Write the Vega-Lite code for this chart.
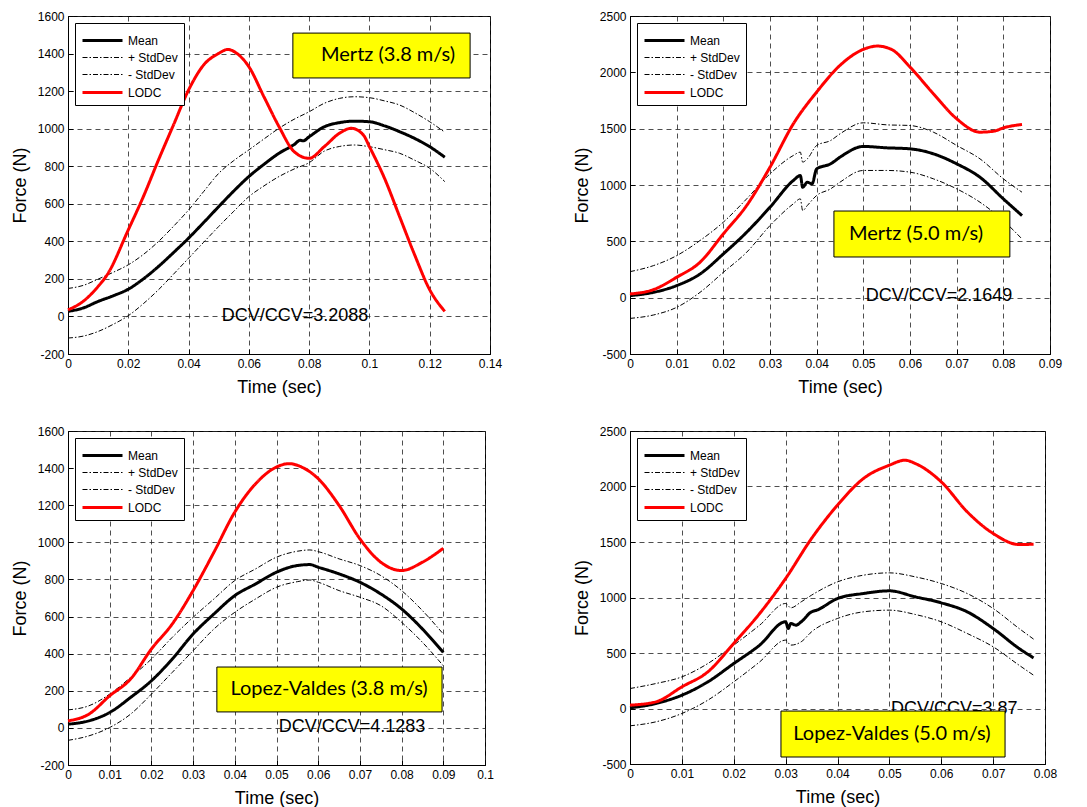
{
  "$schema": "https://vega.github.io/schema/vega-lite/v6.json",
  "background": "white",
  "padding": {"left": 10, "top": 9, "right": 5, "bottom": 5},
  "config": {
    "font": "Liberation Sans",
    "view": {"stroke": "black", "strokeWidth": 1},
    "axis": {
      "grid": true, "gridColor": "#222222", "gridDash": [5, 4], "gridOpacity": 1, "gridWidth": 0.8,
      "domainColor": "black", "tickColor": "black", "tickSize": -5, "labelFlush": false,
      "labelFont": "Liberation Sans", "labelFontSize": 12, "labelColor": "black", "labelPadding": 9,
      "titleFont": "Liberation Sans", "titleFontSize": 18, "titleFontWeight": "normal", "titleColor": "black",
      "labelExpr": "replace(datum.label, '\u2212', '-')"
    },
    "axisX": {"titlePadding": 9},
    "axisY": {"titlePadding": 8},
    "legend": {
      "orient": "top-left", "offset": 7, "strokeColor": "black", "fillColor": "white", "padding": 6,
      "cornerRadius": 0, "symbolType": "M-1,0H3", "symbolSize": 400, "labelFont": "Liberation Sans",
      "labelFontSize": 12, "labelColor": "black", "rowPadding": -1, "labelOffset": 24
    }
  },
  "columns": 2,
  "spacing": {"row": 27, "column": 69},
  "resolve": {
    "scale": {"color": "independent", "strokeDash": "independent", "strokeWidth": "independent", "x": "independent", "y": "independent"},
    "legend": {"color": "independent", "strokeDash": "independent", "strokeWidth": "independent"}
  },
  "concat": [
    {
      "width": 422, "height": 338,
      "encoding": {
        "x": {"field": "t", "type": "quantitative", "title": "Time (sec)", "scale": {"domain": [0, 0.14], "nice": false, "zero": false}, "axis": {"values": [0, 0.02, 0.04, 0.06, 0.08, 0.1, 0.12, 0.14], "format": "~g"}},
        "y": {"field": "f", "type": "quantitative", "title": "Force (N)", "scale": {"domain": [-200, 1600], "nice": false, "zero": false}, "axis": {"values": [-200, 0, 200, 400, 600, 800, 1000, 1200, 1400, 1600], "format": "d"}}
      },
      "layer": [
        {
          "data": {"values": [
            {"t": 0, "f": 27, "s": "Mean"}, {"t": 0.005, "f": 45, "s": "Mean"}, {"t": 0.01, "f": 80, "s": "Mean"}, {"t": 0.015, "f": 110, "s": "Mean"}, {"t": 0.02, "f": 145, "s": "Mean"}, {"t": 0.025, "f": 200, "s": "Mean"}, {"t": 0.03, "f": 266, "s": "Mean"}, {"t": 0.035, "f": 340, "s": "Mean"}, {"t": 0.04, "f": 417, "s": "Mean"}, {"t": 0.045, "f": 500, "s": "Mean"}, {"t": 0.05, "f": 585, "s": "Mean"}, {"t": 0.055, "f": 668, "s": "Mean"}, {"t": 0.06, "f": 745, "s": "Mean"}, {"t": 0.065, "f": 810, "s": "Mean"}, {"t": 0.07, "f": 869, "s": "Mean"}, {"t": 0.075, "f": 915, "s": "Mean"}, {"t": 0.077, "f": 938, "s": "Mean"}, {"t": 0.078, "f": 935, "s": "Mean"}, {"t": 0.08, "f": 957, "s": "Mean"}, {"t": 0.085, "f": 1010, "s": "Mean"}, {"t": 0.09, "f": 1032, "s": "Mean"}, {"t": 0.095, "f": 1040, "s": "Mean"}, {"t": 0.1, "f": 1037, "s": "Mean"}, {"t": 0.105, "f": 1015, "s": "Mean"}, {"t": 0.11, "f": 984, "s": "Mean"}, {"t": 0.115, "f": 948, "s": "Mean"}, {"t": 0.12, "f": 904, "s": "Mean"}, {"t": 0.125, "f": 848, "s": "Mean"},
            {"t": 0, "f": 149, "s": "+ StdDev"}, {"t": 0.005, "f": 165, "s": "+ StdDev"}, {"t": 0.01, "f": 199, "s": "+ StdDev"}, {"t": 0.015, "f": 235, "s": "+ StdDev"}, {"t": 0.02, "f": 275, "s": "+ StdDev"}, {"t": 0.025, "f": 330, "s": "+ StdDev"}, {"t": 0.03, "f": 399, "s": "+ StdDev"}, {"t": 0.035, "f": 480, "s": "+ StdDev"}, {"t": 0.04, "f": 567, "s": "+ StdDev"}, {"t": 0.045, "f": 665, "s": "+ StdDev"}, {"t": 0.05, "f": 762, "s": "+ StdDev"}, {"t": 0.055, "f": 830, "s": "+ StdDev"}, {"t": 0.06, "f": 887, "s": "+ StdDev"}, {"t": 0.065, "f": 945, "s": "+ StdDev"}, {"t": 0.07, "f": 1002, "s": "+ StdDev"}, {"t": 0.075, "f": 1050, "s": "+ StdDev"}, {"t": 0.08, "f": 1090, "s": "+ StdDev"}, {"t": 0.085, "f": 1135, "s": "+ StdDev"}, {"t": 0.09, "f": 1161, "s": "+ StdDev"}, {"t": 0.095, "f": 1170, "s": "+ StdDev"}, {"t": 0.1, "f": 1165, "s": "+ StdDev"}, {"t": 0.105, "f": 1148, "s": "+ StdDev"}, {"t": 0.11, "f": 1126, "s": "+ StdDev"}, {"t": 0.115, "f": 1085, "s": "+ StdDev"}, {"t": 0.12, "f": 1037, "s": "+ StdDev"}, {"t": 0.125, "f": 981, "s": "+ StdDev"},
            {"t": 0, "f": -115, "s": "- StdDev"}, {"t": 0.005, "f": -105, "s": "- StdDev"}, {"t": 0.01, "f": -80, "s": "- StdDev"}, {"t": 0.015, "f": -42, "s": "- StdDev"}, {"t": 0.02, "f": 4, "s": "- StdDev"}, {"t": 0.025, "f": 68, "s": "- StdDev"}, {"t": 0.03, "f": 142, "s": "- StdDev"}, {"t": 0.035, "f": 225, "s": "- StdDev"}, {"t": 0.04, "f": 310, "s": "- StdDev"}, {"t": 0.045, "f": 395, "s": "- StdDev"}, {"t": 0.05, "f": 479, "s": "- StdDev"}, {"t": 0.055, "f": 560, "s": "- StdDev"}, {"t": 0.06, "f": 638, "s": "- StdDev"}, {"t": 0.065, "f": 695, "s": "- StdDev"}, {"t": 0.07, "f": 745, "s": "- StdDev"}, {"t": 0.075, "f": 785, "s": "- StdDev"}, {"t": 0.08, "f": 819, "s": "- StdDev"}, {"t": 0.085, "f": 880, "s": "- StdDev"}, {"t": 0.09, "f": 905, "s": "- StdDev"}, {"t": 0.095, "f": 913, "s": "- StdDev"}, {"t": 0.1, "f": 904, "s": "- StdDev"}, {"t": 0.105, "f": 888, "s": "- StdDev"}, {"t": 0.11, "f": 869, "s": "- StdDev"}, {"t": 0.115, "f": 832, "s": "- StdDev"}, {"t": 0.12, "f": 789, "s": "- StdDev"}, {"t": 0.125, "f": 718, "s": "- StdDev"},
            {"t": 0, "f": 35, "s": "LODC"}, {"t": 0.005, "f": 80, "s": "LODC"}, {"t": 0.01, "f": 160, "s": "LODC"}, {"t": 0.013, "f": 222, "s": "LODC"}, {"t": 0.02, "f": 461, "s": "LODC"}, {"t": 0.025, "f": 638, "s": "LODC"}, {"t": 0.03, "f": 833, "s": "LODC"}, {"t": 0.035, "f": 1020, "s": "LODC"}, {"t": 0.04, "f": 1206, "s": "LODC"}, {"t": 0.045, "f": 1339, "s": "LODC"}, {"t": 0.05, "f": 1401, "s": "LODC"}, {"t": 0.053, "f": 1422, "s": "LODC"}, {"t": 0.056, "f": 1401, "s": "LODC"}, {"t": 0.06, "f": 1330, "s": "LODC"}, {"t": 0.065, "f": 1170, "s": "LODC"}, {"t": 0.07, "f": 1011, "s": "LODC"}, {"t": 0.075, "f": 878, "s": "LODC"}, {"t": 0.08, "f": 842, "s": "LODC"}, {"t": 0.085, "f": 904, "s": "LODC"}, {"t": 0.09, "f": 975, "s": "LODC"}, {"t": 0.094, "f": 1002, "s": "LODC"}, {"t": 0.098, "f": 966, "s": "LODC"}, {"t": 0.1, "f": 904, "s": "LODC"}, {"t": 0.105, "f": 736, "s": "LODC"}, {"t": 0.11, "f": 532, "s": "LODC"}, {"t": 0.115, "f": 328, "s": "LODC"}, {"t": 0.12, "f": 142, "s": "LODC"}, {"t": 0.125, "f": 27, "s": "LODC"}
          ]},
          "mark": {"type": "line", "interpolate": "monotone"},
          "encoding": {
            "color": {"field": "s", "type": "nominal", "scale": {"domain": ["Mean", "+ StdDev", "- StdDev", "LODC"], "range": ["black", "black", "black", "#ff0000"]}, "legend": {"title": null}},
            "strokeDash": {"field": "s", "type": "nominal", "scale": {"domain": ["Mean", "+ StdDev", "- StdDev", "LODC"], "range": [[1, 0], [5, 2, 1.5, 2], [5, 2, 1.5, 2], [1, 0]]}, "legend": {"title": null}},
            "strokeWidth": {"field": "s", "type": "nominal", "scale": {"type": "ordinal", "domain": ["Mean", "+ StdDev", "- StdDev", "LODC"], "range": [3, 1, 1, 3]}, "legend": {"title": null}}
          }
        },
        {
          "data": {"values": [{"t": 0.0753, "f": 0, "label": "DCV/CCV=3.2088"}]},
          "mark": {"type": "text", "font": "Liberation Sans", "fontSize": 18, "color": "black"},
          "encoding": {"text": {"field": "label"}}
        },
        {
          "data": {"values": [{"t": 0.0746, "t2": 0.1334, "f": 1270, "f2": 1509}]},
          "mark": {"type": "rect", "fill": "#ffff00", "stroke": "black", "strokeWidth": 1},
          "encoding": {"x2": {"field": "t2"}, "y2": {"field": "f2"}}
        },
        {
          "data": {"values": [{"t": 0.1062, "f": 1392, "label": "Mertz (3.8 m/s)"}]},
          "mark": {"type": "text", "font": "Lato", "fontSize": 20, "color": "black"},
          "encoding": {"text": {"field": "label"}}
        }
      ]
    },
    {
      "width": 420, "height": 338,
      "encoding": {
        "x": {"field": "t", "type": "quantitative", "title": "Time (sec)", "scale": {"domain": [0, 0.09], "nice": false, "zero": false}, "axis": {"values": [0, 0.01, 0.02, 0.03, 0.04, 0.05, 0.06, 0.07, 0.08, 0.09], "format": "~g"}},
        "y": {"field": "f", "type": "quantitative", "title": "Force (N)", "scale": {"domain": [-500, 2500], "nice": false, "zero": false}, "axis": {"values": [-500, 0, 500, 1000, 1500, 2000, 2500], "format": "d"}}
      },
      "layer": [
        {
          "data": {"values": [
            {"t": 0, "f": 18, "s": "Mean"}, {"t": 0.005, "f": 47, "s": "Mean"}, {"t": 0.01, "f": 107, "s": "Mean"}, {"t": 0.015, "f": 210, "s": "Mean"}, {"t": 0.02, "f": 388, "s": "Mean"}, {"t": 0.025, "f": 581, "s": "Mean"}, {"t": 0.03, "f": 803, "s": "Mean"}, {"t": 0.035, "f": 1040, "s": "Mean"}, {"t": 0.0365, "f": 1084, "s": "Mean"}, {"t": 0.037, "f": 980, "s": "Mean"}, {"t": 0.038, "f": 1025, "s": "Mean"}, {"t": 0.039, "f": 1010, "s": "Mean"}, {"t": 0.04, "f": 1143, "s": "Mean"}, {"t": 0.043, "f": 1188, "s": "Mean"}, {"t": 0.045, "f": 1247, "s": "Mean"}, {"t": 0.05, "f": 1342, "s": "Mean"}, {"t": 0.055, "f": 1330, "s": "Mean"}, {"t": 0.06, "f": 1321, "s": "Mean"}, {"t": 0.065, "f": 1277, "s": "Mean"}, {"t": 0.07, "f": 1188, "s": "Mean"}, {"t": 0.075, "f": 1069, "s": "Mean"}, {"t": 0.08, "f": 877, "s": "Mean"}, {"t": 0.084, "f": 729, "s": "Mean"},
            {"t": 0, "f": 231, "s": "+ StdDev"}, {"t": 0.005, "f": 284, "s": "+ StdDev"}, {"t": 0.01, "f": 373, "s": "+ StdDev"}, {"t": 0.015, "f": 507, "s": "+ StdDev"}, {"t": 0.02, "f": 670, "s": "+ StdDev"}, {"t": 0.025, "f": 877, "s": "+ StdDev"}, {"t": 0.03, "f": 1099, "s": "+ StdDev"}, {"t": 0.035, "f": 1262, "s": "+ StdDev"}, {"t": 0.0365, "f": 1292, "s": "+ StdDev"}, {"t": 0.037, "f": 1203, "s": "+ StdDev"}, {"t": 0.038, "f": 1232, "s": "+ StdDev"}, {"t": 0.04, "f": 1351, "s": "+ StdDev"}, {"t": 0.043, "f": 1395, "s": "+ StdDev"}, {"t": 0.045, "f": 1454, "s": "+ StdDev"}, {"t": 0.05, "f": 1552, "s": "+ StdDev"}, {"t": 0.055, "f": 1534, "s": "+ StdDev"}, {"t": 0.06, "f": 1528, "s": "+ StdDev"}, {"t": 0.065, "f": 1469, "s": "+ StdDev"}, {"t": 0.07, "f": 1351, "s": "+ StdDev"}, {"t": 0.075, "f": 1232, "s": "+ StdDev"}, {"t": 0.08, "f": 1055, "s": "+ StdDev"}, {"t": 0.084, "f": 936, "s": "+ StdDev"},
            {"t": 0, "f": -184, "s": "- StdDev"}, {"t": 0.005, "f": -154, "s": "- StdDev"}, {"t": 0.01, "f": -86, "s": "- StdDev"}, {"t": 0.015, "f": 47, "s": "- StdDev"}, {"t": 0.02, "f": 225, "s": "- StdDev"}, {"t": 0.025, "f": 403, "s": "- StdDev"}, {"t": 0.03, "f": 640, "s": "- StdDev"}, {"t": 0.035, "f": 833, "s": "- StdDev"}, {"t": 0.0365, "f": 877, "s": "- StdDev"}, {"t": 0.037, "f": 773, "s": "- StdDev"}, {"t": 0.038, "f": 818, "s": "- StdDev"}, {"t": 0.04, "f": 907, "s": "- StdDev"}, {"t": 0.043, "f": 966, "s": "- StdDev"}, {"t": 0.045, "f": 1025, "s": "- StdDev"}, {"t": 0.05, "f": 1129, "s": "- StdDev"}, {"t": 0.055, "f": 1129, "s": "- StdDev"}, {"t": 0.06, "f": 1114, "s": "- StdDev"}, {"t": 0.065, "f": 1055, "s": "- StdDev"}, {"t": 0.07, "f": 966, "s": "- StdDev"}, {"t": 0.075, "f": 847, "s": "- StdDev"}, {"t": 0.08, "f": 684, "s": "- StdDev"}, {"t": 0.084, "f": 521, "s": "- StdDev"},
            {"t": 0, "f": 33, "s": "LODC"}, {"t": 0.005, "f": 71, "s": "LODC"}, {"t": 0.01, "f": 181, "s": "LODC"}, {"t": 0.015, "f": 314, "s": "LODC"}, {"t": 0.02, "f": 566, "s": "LODC"}, {"t": 0.025, "f": 818, "s": "LODC"}, {"t": 0.03, "f": 1158, "s": "LODC"}, {"t": 0.035, "f": 1543, "s": "LODC"}, {"t": 0.04, "f": 1825, "s": "LODC"}, {"t": 0.045, "f": 2062, "s": "LODC"}, {"t": 0.05, "f": 2204, "s": "LODC"}, {"t": 0.053, "f": 2233, "s": "LODC"}, {"t": 0.056, "f": 2204, "s": "LODC"}, {"t": 0.06, "f": 2047, "s": "LODC"}, {"t": 0.065, "f": 1810, "s": "LODC"}, {"t": 0.07, "f": 1588, "s": "LODC"}, {"t": 0.075, "f": 1469, "s": "LODC"}, {"t": 0.078, "f": 1478, "s": "LODC"}, {"t": 0.08, "f": 1507, "s": "LODC"}, {"t": 0.084, "f": 1537, "s": "LODC"}
          ]},
          "mark": {"type": "line", "interpolate": "monotone"},
          "encoding": {
            "color": {"field": "s", "type": "nominal", "scale": {"domain": ["Mean", "+ StdDev", "- StdDev", "LODC"], "range": ["black", "black", "black", "#ff0000"]}, "legend": {"title": null}},
            "strokeDash": {"field": "s", "type": "nominal", "scale": {"domain": ["Mean", "+ StdDev", "- StdDev", "LODC"], "range": [[1, 0], [5, 2, 1.5, 2], [5, 2, 1.5, 2], [1, 0]]}, "legend": {"title": null}},
            "strokeWidth": {"field": "s", "type": "nominal", "scale": {"type": "ordinal", "domain": ["Mean", "+ StdDev", "- StdDev", "LODC"], "range": [3, 1, 1, 3]}, "legend": {"title": null}}
          }
        },
        {
          "data": {"values": [{"t": 0.0662, "f": 15, "label": "DCV/CCV=2.1649"}]},
          "mark": {"type": "text", "font": "Liberation Sans", "fontSize": 18, "color": "black"},
          "encoding": {"text": {"field": "label"}}
        },
        {
          "data": {"values": [{"t": 0.0437, "t2": 0.0814, "f": 361, "f2": 769}]},
          "mark": {"type": "rect", "fill": "#ffff00", "stroke": "black", "strokeWidth": 1},
          "encoding": {"x2": {"field": "t2"}, "y2": {"field": "f2"}}
        },
        {
          "data": {"values": [{"t": 0.0613, "f": 565, "label": "Mertz (5.0 m/s)"}]},
          "mark": {"type": "text", "font": "Lato", "fontSize": 20, "color": "black"},
          "encoding": {"text": {"field": "label"}}
        }
      ]
    },
    {
      "width": 417, "height": 334,
      "encoding": {
        "x": {"field": "t", "type": "quantitative", "title": "Time (sec)", "scale": {"domain": [0, 0.1], "nice": false, "zero": false}, "axis": {"values": [0, 0.01, 0.02, 0.03, 0.04, 0.05, 0.06, 0.07, 0.08, 0.09, 0.1], "format": "~g"}},
        "y": {"field": "f", "type": "quantitative", "title": "Force (N)", "scale": {"domain": [-200, 1600], "nice": false, "zero": false}, "axis": {"values": [-200, 0, 200, 400, 600, 800, 1000, 1200, 1400, 1600], "format": "d"}}
      },
      "layer": [
        {
          "data": {"values": [
            {"t": 0, "f": 20, "s": "Mean"}, {"t": 0.005, "f": 38, "s": "Mean"}, {"t": 0.01, "f": 83, "s": "Mean"}, {"t": 0.015, "f": 164, "s": "Mean"}, {"t": 0.02, "f": 254, "s": "Mean"}, {"t": 0.025, "f": 371, "s": "Mean"}, {"t": 0.03, "f": 506, "s": "Mean"}, {"t": 0.035, "f": 614, "s": "Mean"}, {"t": 0.04, "f": 713, "s": "Mean"}, {"t": 0.045, "f": 776, "s": "Mean"}, {"t": 0.05, "f": 839, "s": "Mean"}, {"t": 0.055, "f": 875, "s": "Mean"}, {"t": 0.058, "f": 880, "s": "Mean"}, {"t": 0.06, "f": 866, "s": "Mean"}, {"t": 0.065, "f": 830, "s": "Mean"}, {"t": 0.07, "f": 785, "s": "Mean"}, {"t": 0.075, "f": 722, "s": "Mean"}, {"t": 0.08, "f": 641, "s": "Mean"}, {"t": 0.085, "f": 533, "s": "Mean"}, {"t": 0.09, "f": 407, "s": "Mean"},
            {"t": 0, "f": 97, "s": "+ StdDev"}, {"t": 0.005, "f": 119, "s": "+ StdDev"}, {"t": 0.01, "f": 182, "s": "+ StdDev"}, {"t": 0.015, "f": 272, "s": "+ StdDev"}, {"t": 0.02, "f": 371, "s": "+ StdDev"}, {"t": 0.025, "f": 488, "s": "+ StdDev"}, {"t": 0.03, "f": 596, "s": "+ StdDev"}, {"t": 0.035, "f": 695, "s": "+ StdDev"}, {"t": 0.04, "f": 794, "s": "+ StdDev"}, {"t": 0.045, "f": 857, "s": "+ StdDev"}, {"t": 0.05, "f": 920, "s": "+ StdDev"}, {"t": 0.055, "f": 952, "s": "+ StdDev"}, {"t": 0.058, "f": 959, "s": "+ StdDev"}, {"t": 0.06, "f": 950, "s": "+ StdDev"}, {"t": 0.065, "f": 911, "s": "+ StdDev"}, {"t": 0.07, "f": 875, "s": "+ StdDev"}, {"t": 0.075, "f": 821, "s": "+ StdDev"}, {"t": 0.08, "f": 740, "s": "+ StdDev"}, {"t": 0.085, "f": 632, "s": "+ StdDev"}, {"t": 0.09, "f": 506, "s": "+ StdDev"},
            {"t": 0, "f": -67, "s": "- StdDev"}, {"t": 0.005, "f": -43, "s": "- StdDev"}, {"t": 0.01, "f": 2, "s": "- StdDev"}, {"t": 0.015, "f": 74, "s": "- StdDev"}, {"t": 0.02, "f": 182, "s": "- StdDev"}, {"t": 0.025, "f": 299, "s": "- StdDev"}, {"t": 0.03, "f": 416, "s": "- StdDev"}, {"t": 0.035, "f": 533, "s": "- StdDev"}, {"t": 0.04, "f": 623, "s": "- StdDev"}, {"t": 0.045, "f": 695, "s": "- StdDev"}, {"t": 0.05, "f": 758, "s": "- StdDev"}, {"t": 0.055, "f": 788, "s": "- StdDev"}, {"t": 0.058, "f": 797, "s": "- StdDev"}, {"t": 0.06, "f": 785, "s": "- StdDev"}, {"t": 0.065, "f": 740, "s": "- StdDev"}, {"t": 0.07, "f": 704, "s": "- StdDev"}, {"t": 0.075, "f": 659, "s": "- StdDev"}, {"t": 0.08, "f": 569, "s": "- StdDev"}, {"t": 0.085, "f": 461, "s": "- StdDev"}, {"t": 0.09, "f": 335, "s": "- StdDev"},
            {"t": 0, "f": 38, "s": "LODC"}, {"t": 0.005, "f": 74, "s": "LODC"}, {"t": 0.01, "f": 173, "s": "LODC"}, {"t": 0.015, "f": 263, "s": "LODC"}, {"t": 0.02, "f": 425, "s": "LODC"}, {"t": 0.025, "f": 560, "s": "LODC"}, {"t": 0.03, "f": 740, "s": "LODC"}, {"t": 0.035, "f": 947, "s": "LODC"}, {"t": 0.04, "f": 1163, "s": "LODC"}, {"t": 0.045, "f": 1316, "s": "LODC"}, {"t": 0.05, "f": 1406, "s": "LODC"}, {"t": 0.053, "f": 1424, "s": "LODC"}, {"t": 0.056, "f": 1406, "s": "LODC"}, {"t": 0.06, "f": 1343, "s": "LODC"}, {"t": 0.065, "f": 1199, "s": "LODC"}, {"t": 0.07, "f": 1019, "s": "LODC"}, {"t": 0.075, "f": 893, "s": "LODC"}, {"t": 0.08, "f": 848, "s": "LODC"}, {"t": 0.085, "f": 893, "s": "LODC"}, {"t": 0.09, "f": 968, "s": "LODC"}
          ]},
          "mark": {"type": "line", "interpolate": "monotone"},
          "encoding": {
            "color": {"field": "s", "type": "nominal", "scale": {"domain": ["Mean", "+ StdDev", "- StdDev", "LODC"], "range": ["black", "black", "black", "#ff0000"]}, "legend": {"title": null}},
            "strokeDash": {"field": "s", "type": "nominal", "scale": {"domain": ["Mean", "+ StdDev", "- StdDev", "LODC"], "range": [[1, 0], [5, 2, 1.5, 2], [5, 2, 1.5, 2], [1, 0]]}, "legend": {"title": null}},
            "strokeWidth": {"field": "s", "type": "nominal", "scale": {"type": "ordinal", "domain": ["Mean", "+ StdDev", "- StdDev", "LODC"], "range": [3, 1, 1, 3]}, "legend": {"title": null}}
          }
        },
        {
          "data": {"values": [{"t": 0.0681, "f": 5, "label": "DCV/CCV=4.1283"}]},
          "mark": {"type": "text", "font": "Liberation Sans", "fontSize": 18, "color": "black"},
          "encoding": {"text": {"field": "label"}}
        },
        {
          "data": {"values": [{"t": 0.0357, "t2": 0.0897, "f": 86, "f2": 328}]},
          "mark": {"type": "rect", "fill": "#ffff00", "stroke": "black", "strokeWidth": 1},
          "encoding": {"x2": {"field": "t2"}, "y2": {"field": "f2"}}
        },
        {
          "data": {"values": [{"t": 0.0626, "f": 207, "label": "Lopez-Valdes (3.8 m/s)"}]},
          "mark": {"type": "text", "font": "Lato", "fontSize": 20, "color": "black"},
          "encoding": {"text": {"field": "label"}}
        }
      ]
    },
    {
      "width": 415, "height": 333,
      "encoding": {
        "x": {"field": "t", "type": "quantitative", "title": "Time (sec)", "scale": {"domain": [0, 0.08], "nice": false, "zero": false}, "axis": {"values": [0, 0.01, 0.02, 0.03, 0.04, 0.05, 0.06, 0.07, 0.08], "format": "~g"}},
        "y": {"field": "f", "type": "quantitative", "title": "Force (N)", "scale": {"domain": [-500, 2500], "nice": false, "zero": false}, "axis": {"values": [-500, 0, 500, 1000, 1500, 2000, 2500], "format": "d"}}
      },
      "layer": [
        {
          "data": {"values": [
            {"t": 0, "f": 6, "s": "Mean"}, {"t": 0.005, "f": 45, "s": "Mean"}, {"t": 0.01, "f": 120, "s": "Mean"}, {"t": 0.015, "f": 240, "s": "Mean"}, {"t": 0.02, "f": 405, "s": "Mean"}, {"t": 0.025, "f": 571, "s": "Mean"}, {"t": 0.03, "f": 781, "s": "Mean"}, {"t": 0.0305, "f": 721, "s": "Mean"}, {"t": 0.031, "f": 766, "s": "Mean"}, {"t": 0.032, "f": 751, "s": "Mean"}, {"t": 0.033, "f": 781, "s": "Mean"}, {"t": 0.035, "f": 871, "s": "Mean"}, {"t": 0.036, "f": 886, "s": "Mean"}, {"t": 0.04, "f": 991, "s": "Mean"}, {"t": 0.045, "f": 1036, "s": "Mean"}, {"t": 0.05, "f": 1060, "s": "Mean"}, {"t": 0.055, "f": 1006, "s": "Mean"}, {"t": 0.06, "f": 952, "s": "Mean"}, {"t": 0.065, "f": 871, "s": "Mean"}, {"t": 0.07, "f": 721, "s": "Mean"}, {"t": 0.075, "f": 541, "s": "Mean"}, {"t": 0.0778, "f": 456, "s": "Mean"},
            {"t": 0, "f": 180, "s": "+ StdDev"}, {"t": 0.005, "f": 225, "s": "+ StdDev"}, {"t": 0.01, "f": 285, "s": "+ StdDev"}, {"t": 0.015, "f": 405, "s": "+ StdDev"}, {"t": 0.02, "f": 571, "s": "+ StdDev"}, {"t": 0.025, "f": 751, "s": "+ StdDev"}, {"t": 0.03, "f": 946, "s": "+ StdDev"}, {"t": 0.031, "f": 907, "s": "+ StdDev"}, {"t": 0.033, "f": 961, "s": "+ StdDev"}, {"t": 0.035, "f": 1021, "s": "+ StdDev"}, {"t": 0.04, "f": 1141, "s": "+ StdDev"}, {"t": 0.045, "f": 1201, "s": "+ StdDev"}, {"t": 0.05, "f": 1222, "s": "+ StdDev"}, {"t": 0.055, "f": 1186, "s": "+ StdDev"}, {"t": 0.06, "f": 1126, "s": "+ StdDev"}, {"t": 0.065, "f": 1036, "s": "+ StdDev"}, {"t": 0.07, "f": 901, "s": "+ StdDev"}, {"t": 0.075, "f": 721, "s": "+ StdDev"}, {"t": 0.0778, "f": 625, "s": "+ StdDev"},
            {"t": 0, "f": -156, "s": "- StdDev"}, {"t": 0.005, "f": -120, "s": "- StdDev"}, {"t": 0.01, "f": -45, "s": "- StdDev"}, {"t": 0.015, "f": 75, "s": "- StdDev"}, {"t": 0.02, "f": 240, "s": "- StdDev"}, {"t": 0.025, "f": 420, "s": "- StdDev"}, {"t": 0.03, "f": 616, "s": "- StdDev"}, {"t": 0.031, "f": 571, "s": "- StdDev"}, {"t": 0.033, "f": 601, "s": "- StdDev"}, {"t": 0.035, "f": 691, "s": "- StdDev"}, {"t": 0.04, "f": 811, "s": "- StdDev"}, {"t": 0.045, "f": 871, "s": "- StdDev"}, {"t": 0.05, "f": 886, "s": "- StdDev"}, {"t": 0.055, "f": 847, "s": "- StdDev"}, {"t": 0.06, "f": 781, "s": "- StdDev"}, {"t": 0.065, "f": 676, "s": "- StdDev"}, {"t": 0.07, "f": 556, "s": "- StdDev"}, {"t": 0.075, "f": 390, "s": "- StdDev"}, {"t": 0.0778, "f": 300, "s": "- StdDev"},
            {"t": 0, "f": 30, "s": "LODC"}, {"t": 0.005, "f": 60, "s": "LODC"}, {"t": 0.01, "f": 195, "s": "LODC"}, {"t": 0.015, "f": 330, "s": "LODC"}, {"t": 0.02, "f": 586, "s": "LODC"}, {"t": 0.025, "f": 856, "s": "LODC"}, {"t": 0.03, "f": 1171, "s": "LODC"}, {"t": 0.035, "f": 1532, "s": "LODC"}, {"t": 0.04, "f": 1832, "s": "LODC"}, {"t": 0.045, "f": 2072, "s": "LODC"}, {"t": 0.05, "f": 2192, "s": "LODC"}, {"t": 0.053, "f": 2237, "s": "LODC"}, {"t": 0.055, "f": 2207, "s": "LODC"}, {"t": 0.06, "f": 2042, "s": "LODC"}, {"t": 0.065, "f": 1772, "s": "LODC"}, {"t": 0.07, "f": 1577, "s": "LODC"}, {"t": 0.075, "f": 1477, "s": "LODC"}, {"t": 0.0778, "f": 1480, "s": "LODC"}
          ]},
          "mark": {"type": "line", "interpolate": "monotone"},
          "encoding": {
            "color": {"field": "s", "type": "nominal", "scale": {"domain": ["Mean", "+ StdDev", "- StdDev", "LODC"], "range": ["black", "black", "black", "#ff0000"]}, "legend": {"title": null}},
            "strokeDash": {"field": "s", "type": "nominal", "scale": {"domain": ["Mean", "+ StdDev", "- StdDev", "LODC"], "range": [[1, 0], [5, 2, 1.5, 2], [5, 2, 1.5, 2], [1, 0]]}, "legend": {"title": null}},
            "strokeWidth": {"field": "s", "type": "nominal", "scale": {"type": "ordinal", "domain": ["Mean", "+ StdDev", "- StdDev", "LODC"], "range": [3, 1, 1, 3]}, "legend": {"title": null}}
          }
        },
        {
          "data": {"values": [{"t": 0.0625, "f": 0, "label": "DCV/CCV=3.87"}]},
          "mark": {"type": "text", "font": "Liberation Sans", "fontSize": 18, "color": "black"},
          "encoding": {"text": {"field": "label"}}
        },
        {
          "data": {"values": [{"t": 0.0291, "t2": 0.0723, "f": -437, "f2": -23}]},
          "mark": {"type": "rect", "fill": "#ffff00", "stroke": "black", "strokeWidth": 1},
          "encoding": {"x2": {"field": "t2"}, "y2": {"field": "f2"}}
        },
        {
          "data": {"values": [{"t": 0.0505, "f": -230, "label": "Lopez-Valdes (5.0 m/s)"}]},
          "mark": {"type": "text", "font": "Lato", "fontSize": 20, "color": "black"},
          "encoding": {"text": {"field": "label"}}
        }
      ]
    }
  ]
}
